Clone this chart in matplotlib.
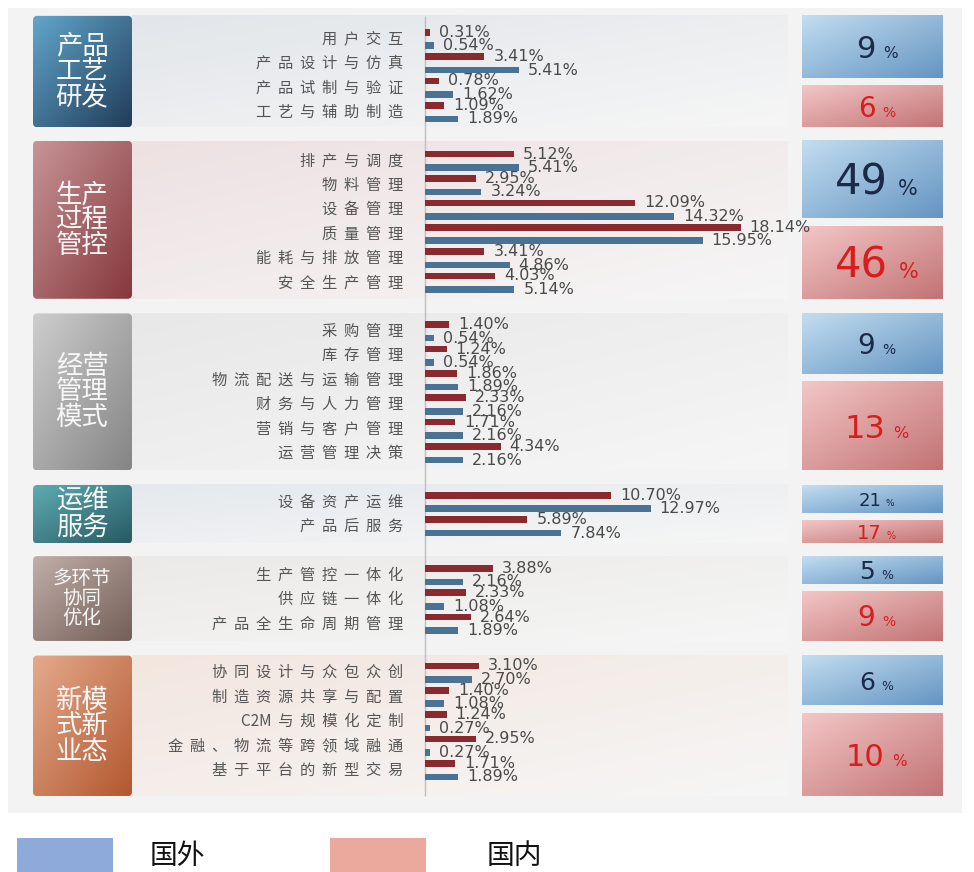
import re
import numpy as np
import matplotlib
matplotlib.use("Agg")
import matplotlib.pyplot as plt
from matplotlib.patches import Rectangle, FancyBboxPatch
from matplotlib.colors import to_rgb

plt.rcParams['font.family'] = ['Noto Sans CJK SC', 'DejaVu Sans']

# ---- data ----
groups = ['产品\n工艺\n研发', '生产\n过程\n管控', '经营\n管理\n模式', '运维\n服务', '多环节\n协同\n优化', '新模\n式新\n业态']
items = [
    ['用户交互', '产品设计与仿真', '产品试制与验证', '工艺与辅助制造'],
    ['排产与调度', '物料管理', '设备管理', '质量管理', '能耗与排放管理', '安全生产管理'],
    ['采购管理', '库存管理', '物流配送与运输管理', '财务与人力管理', '营销与客户管理', '运营管理决策'],
    ['设备资产运维', '产品后服务'],
    ['生产管控一体化', '供应链一体化', '产品全生命周期管理'],
    ['协同设计与众包众创', '制造资源共享与配置', 'C2M与规模化定制', '金融、物流等跨领域融通', '基于平台的新型交易'],
]
domestic = [  # 国内
    [0.31, 3.41, 0.78, 1.09],
    [5.12, 2.95, 12.09, 18.14, 3.41, 4.03],
    [1.40, 1.24, 1.86, 2.33, 1.71, 4.34],
    [10.70, 5.89],
    [3.88, 2.33, 2.64],
    [3.10, 1.40, 1.24, 2.95, 1.71],
]
foreign = [  # 国外
    [0.54, 5.41, 1.62, 1.89],
    [5.41, 3.24, 14.32, 15.95, 4.86, 5.14],
    [0.54, 0.54, 1.89, 2.16, 2.16, 2.16],
    [12.97, 7.84],
    [2.16, 1.08, 1.89],
    [2.70, 1.08, 0.27, 0.27, 1.89],
]
share_foreign = [9, 49, 9, 21, 5, 6]
share_domestic = [6, 46, 13, 17, 9, 10]
legend_labels = ['国外', '国内']

# ---- style ----
W, H = 974, 872
X0, SX = 425, 17.4      # pixel of 0 %, pixels per %
Y0, SY = 39, 24.37      # pixel of first row, pixels per row
RED, BLUE = '#8a2a2e', '#4a7294'
box_cols = [('#62a6cb', '#213d5a'), ('#c79496', '#86383d'), ('#cdcdcd', '#858585'),
            ('#5eacb3', '#285a62'), ('#c0aea8', '#735f58'), ('#e4aa8c', '#b3582f')]
panel_cols = ['#e2e6ea', '#eee1e2', '#e8e8e8', '#e5e9ed', '#ebeae8', '#f3e6df']
pad_top = [0.95, 0.82, 0.74, 0.7, 0.78, 0.7]
pad_bot = [0.62, 0.66, 0.7, 0.7, 0.7, 1.07]
group_fs = [19, 19, 19, 19, 14, 19]
digit_fs = [(22, 20), (30, 30), (20, 23), (13, 14), (18, 20), (18, 22)]


def px(p):
    return (p - X0) / SX


def py(p):
    return (p - Y0) / SY


def spaced(s):
    return '  '.join(re.findall(r'[A-Za-z0-9]+|.', s))


def gradient(ax, x0, x1, yt, yb, c1, c2, clip=None, z=1):
    a = np.linspace(0, 1, 64)
    t = ((a[None, :] + a[:, None]) / 2)[..., None]
    img = np.array(to_rgb(c1)) * (1 - t) + np.array(to_rgb(c2)) * t
    im = ax.imshow(img, extent=(x0, x1, yb, yt), origin='upper', aspect='auto',
                   interpolation='bicubic', zorder=z)
    if clip is not None:
        im.set_clip_path(clip)
    return im


fig = plt.figure(figsize=(W / 100, H / 100), dpi=100)
ax = fig.add_axes([0, 0, 1, 1])
ax.axis('off')

# overall light background
ax.add_patch(Rectangle((px(8), py(8)), px(962) - px(8), py(813) - py(8),
                       fc='#f3f3f3', ec='none', zorder=0))

# row positions
rows = []
r = 0
for g in items:
    rows.append(np.arange(len(g)) + r)
    r += len(g) + 1

renderer = fig.canvas.get_renderer()
off = 6.75 / SY
bh = 6.6 / SY
for gi, g in enumerate(items):
    rr = rows[gi]
    top, bot = rr[0] - pad_top[gi], rr[-1] + pad_bot[gi]
    # panel
    gradient(ax, px(132), px(788), top, bot, panel_cols[gi], '#f6f6f6', z=1)
    # left box
    box = FancyBboxPatch((px(33), top), px(132) - px(33), bot - top,
                         boxstyle='round,pad=0,rounding_size=0.25',
                         mutation_aspect=SX / SY, fc='none', ec='none', zorder=2)
    ax.add_patch(box)
    gradient(ax, px(33), px(132), top, bot, box_cols[gi][0], box_cols[gi][1], clip=box, z=2)
    ax.text(px(82), (top + bot) / 2, groups[gi], ha='center', va='center',
            fontsize=group_fs[gi], color='#f7f7f7', linespacing=0.92, zorder=3)
    # item labels
    for k, lab in enumerate(g):
        ax.text(px(403), rr[k], spaced(lab), ha='right', va='center',
                fontsize=11, color='#555555', zorder=3)
    # bars
    ax.barh(rr - off, domestic[gi], height=bh, color=RED, zorder=4)
    ax.barh(rr + off, foreign[gi], height=bh, color=BLUE, zorder=4)
    for k in range(len(g)):
        for v, y in ((domestic[gi][k], rr[k] - off), (foreign[gi][k], rr[k] + off)):
            ax.text(v + 9 / SX, y, f'{v:.2f}%', ha='left', va='center',
                    fontsize=11.5, color='#4a4a4a', family='DejaVu Sans', zorder=5)
    # share boxes on the right
    gap = 8 / SY
    tot = share_foreign[gi] + share_domestic[gi]
    hb = (bot - top - gap) * share_foreign[gi] / tot
    spans = [(top, top + hb, share_foreign[gi], ('#c2ddf0', '#6595c2'), '#1b2b47'),
             (top + hb + gap, bot, share_domestic[gi], ('#f3c6c6', '#c27374'), '#d61e1e')]
    for j, (y0, y1, val, cols, tc) in enumerate(spans):
        gradient(ax, px(802), px(943), y0, y1, cols[0], cols[1], z=2)
        fs = digit_fs[gi][j]
        yc = (y0 + y1) / 2 + (fs * 0.73 * 100 / 72) / 2 / SY
        t1 = ax.text(0, yc, str(val), ha='left', va='baseline', fontsize=fs,
                     color=tc, family='DejaVu Sans', zorder=5)
        t2 = ax.text(0, yc, '%', ha='left', va='baseline', fontsize=fs * 0.5,
                     color=tc, family='DejaVu Sans', zorder=5)
        w1 = t1.get_window_extent(renderer).width
        w2 = t2.get_window_extent(renderer).width
        sp = fs * 0.35
        start = 872.5 + 4 - (w1 + sp + w2) / 2
        t1.set_x(px(start))
        t2.set_x(px(start + w1 + sp))

# zero line
ax.vlines(0, rows[0][0] - pad_top[0], rows[-1][-1] + pad_bot[-1], color='#bdbdbd', lw=1, zorder=3)

# legend
for (x0, x1, tx), lab, c in zip([(17, 113, 150), (330, 426, 487)], legend_labels, ['#8eaadb', '#eba89c']):
    ax.add_patch(Rectangle((px(x0), py(838)), px(x1) - px(x0), py(880) - py(838),
                           fc=c, ec='none', zorder=2))
    ax.text(px(tx), py(856), lab, ha='left', va='center', fontsize=20, color='#111111', zorder=3)

ax.set_xlim(px(0), px(W))
ax.set_ylim(py(H), py(0))
fig.savefig('out.png', dpi=100, facecolor='white')
